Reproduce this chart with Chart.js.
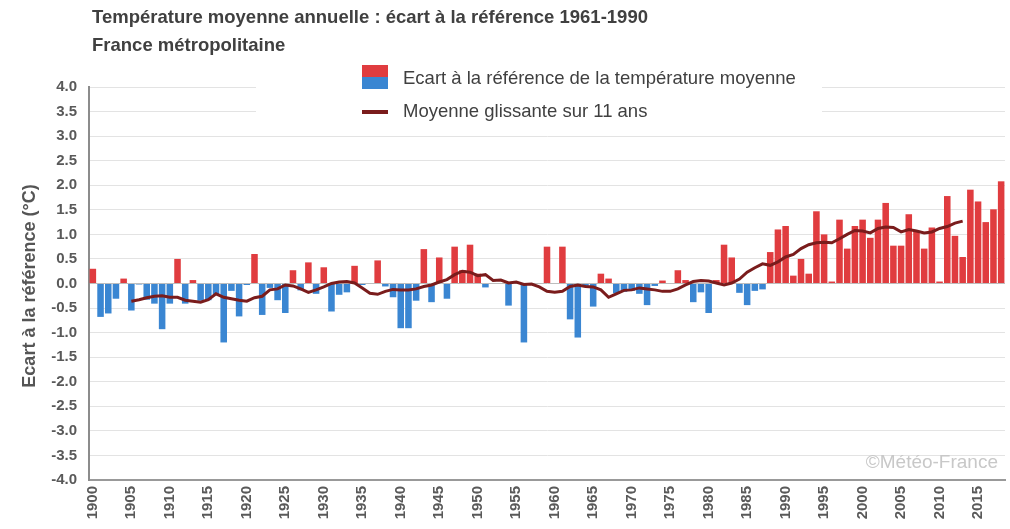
<!DOCTYPE html>
<html lang="fr">
<head>
<meta charset="UTF-8">
<title>Température moyenne annuelle : écart à la référence 1961-1990</title>
<script src="https://cdn.jsdelivr.net/npm/chart.js"></script>
<style>
    body { margin: 0; background: #ffffff; }
    #wrap { position: relative; width: 1010px; height: 529px; }
</style>
</head>
<body>
<div id="wrap"><canvas id="chart" width="1010" height="529"></canvas></div>
<script>
// années 1900-2018
const years = [
    1900,1901,1902,1903,1904,1905,1906,1907,1908,1909,
    1910,1911,1912,1913,1914,1915,1916,1917,1918,1919,
    1920,1921,1922,1923,1924,1925,1926,1927,1928,1929,
    1930,1931,1932,1933,1934,1935,1936,1937,1938,1939,
    1940,1941,1942,1943,1944,1945,1946,1947,1948,1949,
    1950,1951,1952,1953,1954,1955,1956,1957,1958,1959,
    1960,1961,1962,1963,1964,1965,1966,1967,1968,1969,
    1970,1971,1972,1973,1974,1975,1976,1977,1978,1979,
    1980,1981,1982,1983,1984,1985,1986,1987,1988,1989,
    1990,1991,1992,1993,1994,1995,1996,1997,1998,1999,
    2000,2001,2002,2003,2004,2005,2006,2007,2008,2009,
    2010,2011,2012,2013,2014,2015,2016,2017,2018
];

// écart à la référence (°C)
const ecart = [
    0.30,-0.68,-0.61,-0.31,0.10,-0.55,-0.02,-0.33,-0.41,-0.93,
    -0.41,0.50,-0.41,0.07,-0.35,-0.34,-0.22,-1.20,-0.15,-0.67,
    -0.03,0.60,-0.64,-0.09,-0.34,-0.60,0.27,-0.14,0.43,-0.21,
    0.33,-0.57,-0.23,-0.18,0.36,-0.03,0.00,0.47,-0.06,-0.28,
    -0.91,-0.91,-0.35,0.70,-0.38,0.53,-0.31,0.75,0.27,0.79,
    0.20,-0.08,0.00,0.00,-0.45,0.00,-1.20,0.00,0.00,0.75,
    0.00,0.75,-0.73,-1.10,-0.05,-0.47,0.20,0.10,-0.20,-0.17,
    -0.15,-0.21,-0.44,-0.05,0.06,0.00,0.27,0.07,-0.38,-0.18,
    -0.60,0.07,0.79,0.53,-0.19,-0.44,-0.15,-0.12,0.64,1.10,
    1.17,0.16,0.50,0.20,1.47,1.00,0.04,1.30,0.71,1.17,
    1.30,0.93,1.30,1.64,0.77,0.77,1.41,1.07,0.71,1.14,
    0.04,1.78,0.97,0.54,1.91,1.67,1.25,1.51,2.08
];

// moyenne glissante sur 11 ans (1905-2013)
const moyenne = [
    null,null,null,null,null,-0.36,-0.33,-0.29,-0.26,-0.25,
    -0.28,-0.28,-0.34,-0.36,-0.38,-0.33,-0.21,-0.28,-0.31,-0.34,
    -0.36,-0.29,-0.26,-0.13,-0.11,-0.03,-0.05,-0.11,-0.18,-0.13,
    -0.07,0.00,0.03,0.04,0.01,-0.09,-0.20,-0.22,-0.16,-0.12,
    -0.13,-0.13,-0.11,-0.06,-0.03,0.03,0.08,0.18,0.25,0.23,
    0.16,0.18,0.06,0.07,0.01,0.03,-0.02,-0.01,-0.07,-0.16,
    -0.18,-0.16,-0.06,-0.03,-0.06,-0.07,-0.13,-0.28,-0.21,-0.14,
    -0.13,-0.09,-0.11,-0.13,-0.16,-0.16,-0.11,-0.03,0.04,0.06,
    0.05,0.01,-0.03,0.01,0.09,0.23,0.32,0.40,0.37,0.44,
    0.54,0.59,0.71,0.79,0.83,0.84,0.83,0.91,1.00,1.08,
    1.07,1.03,1.12,1.15,1.14,1.05,1.10,1.07,1.03,1.05,
    1.12,1.16,1.23,1.27,null,null,null,null,null
];

const tickYears = [1900,1905,1910,1915,1920,1925,1930,1935,1940,1945,1950,1955,
                   1960,1965,1970,1975,1980,1985,1990,1995,2000,2005,2010,2015];

const RED = '#e03c3f';
const BLUE = '#3a86d2';
const LINE = '#7a1c1c';
const TXT = '#404040';
const FONT = '"Liberation Sans", Arial, sans-serif';

const decor = {
    id: 'decor',
    afterDraw(chart) {
        const ctx = chart.ctx;
        ctx.save();
        // titres
        ctx.fillStyle = TXT;
        ctx.textBaseline = 'middle';
        ctx.textAlign = 'left';
        ctx.font = 'bold 18.5px ' + FONT;
        ctx.fillText('Température moyenne annuelle : écart à la référence 1961-1990', 92, 18);
        ctx.fillText('France métropolitaine', 92, 46);

        // légende (fond blanc sur la grille)
        ctx.fillStyle = '#ffffff';
        ctx.fillRect(256, 60, 566, 66);
        ctx.fillStyle = RED;
        ctx.fillRect(362, 65, 26, 12);
        ctx.fillStyle = BLUE;
        ctx.fillRect(362, 77, 26, 12);
        ctx.strokeStyle = LINE;
        ctx.lineWidth = 4;
        ctx.beginPath();
        ctx.moveTo(362, 112);
        ctx.lineTo(388, 112);
        ctx.stroke();
        ctx.fillStyle = TXT;
        ctx.font = '18.5px ' + FONT;
        ctx.fillText('Ecart à la référence de la température moyenne', 403, 79);
        ctx.fillText('Moyenne glissante sur 11 ans', 403, 112);

        // titre de l'axe y
        ctx.save();
        ctx.translate(30, 286);
        ctx.rotate(-Math.PI / 2);
        ctx.textAlign = 'center';
        ctx.fillStyle = '#555555';
        ctx.font = 'bold 18px ' + FONT;
        ctx.fillText('Ecart à la référence (°C)', 0, 0);
        ctx.restore();

        // copyright
        ctx.textAlign = 'right';
        ctx.fillStyle = '#c8c8c8';
        ctx.font = '19px ' + FONT;
        ctx.fillText('©Météo-France', 998, 463);
        ctx.restore();
    }
};

new Chart(document.getElementById('chart'), {
    data: {
        labels: years,
        datasets: [{
            type: 'line',
            label: 'Moyenne glissante sur 11 ans',
            data: moyenne,
            borderColor: LINE,
            borderWidth: 3,
            pointRadius: 0,
            tension: 0,
            spanGaps: false,
            order: 0
        }, {
            type: 'bar',
            label: 'Ecart à la référence de la température moyenne',
            data: ecart,
            backgroundColor: ecart.map(v => v >= 0 ? RED : BLUE),
            barPercentage: 0.85,
            categoryPercentage: 1.0,
            order: 1
        }]
    },
    options: {
        responsive: false,
        animation: false,
        layout: { padding: { top: 87, right: 5, bottom: 0, left: 0 } },
        plugins: {
            legend: { display: false },
            tooltip: { enabled: false }
        },
        scales: {
            x: {
                grid: { display: false, drawTicks: false },
                border: { color: '#999999', width: 2 },
                afterFit(scale) {
                    scale.height = 49;
                    scale.paddingLeft = 0;
                    scale.paddingRight = 0;
                },
                ticks: {
                    autoSkip: false,
                    maxRotation: 90,
                    minRotation: 90,
                    padding: 6,
                    color: '#595959',
                    font: { family: FONT, size: 15, weight: 'bold' },
                    callback(value, index) {
                        const y = years[index];
                        return tickYears.includes(y) ? String(y) : '';
                    }
                }
            },
            y: {
                min: -4,
                max: 4,
                afterFit(scale) {
                    scale.width = 89;
                    scale.paddingTop = 0;
                    scale.paddingBottom = 0;
                },
                grid: {
                    drawTicks: false,
                    color: ctx => ctx.tick && ctx.tick.value === 0 ? '#bdbdbd' : '#e3e3e3'
                },
                border: { color: '#8c8c8c', width: 2 },
                ticks: {
                    stepSize: 0.5,
                    padding: 12,
                    color: '#595959',
                    font: { family: FONT, size: 15, weight: 'bold' },
                    callback: v => v.toFixed(1)
                }
            }
        }
    },
    plugins: [decor]
});
</script>
</body>
</html>
